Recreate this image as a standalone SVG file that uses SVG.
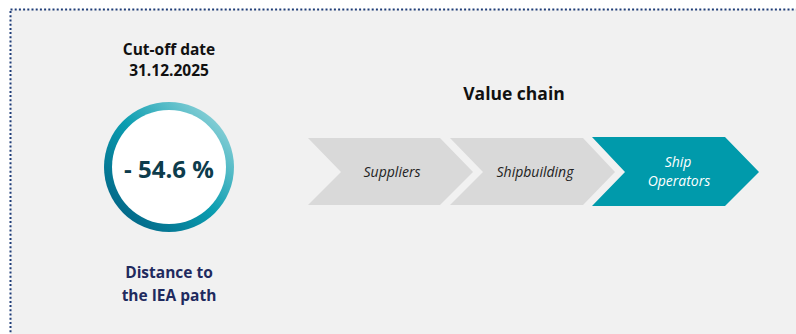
<svg xmlns="http://www.w3.org/2000/svg" width="796" height="334" viewBox="0 0 796 334">
<defs>
<linearGradient id="ring" x1="1" y1="0" x2="0" y2="1">
<stop offset="0" stop-color="#b2e0e3"/>
<stop offset="0.5" stop-color="#0a9db0"/>
<stop offset="1" stop-color="#00557a"/>
</linearGradient>
<style>
.hd{font-family:"Open Sans","Liberation Sans",sans-serif;font-weight:bold;text-anchor:middle}
.ch{font-family:"Open Sans","Liberation Sans",sans-serif;font-style:italic;font-size:14px;text-anchor:middle}
.gray{fill:#d9d9d9}
</style>
</defs>
<rect width="796" height="334" fill="#ffffff"/>
<rect x="10.5" y="9.5" width="800" height="340" fill="#f1f1f1" stroke="#1f3d78" stroke-width="2" stroke-dasharray="2 2.2"/>
<g id="cutoff">
<text class="hd" x="169" y="55" font-size="15.5" fill="#111">Cut-off date</text>
<text class="hd" x="169" y="76" font-size="15.5" fill="#111">31.12.2025</text>
</g>
<g id="gauge">
<circle cx="169" cy="167" r="65" fill="url(#ring)"/>
<circle cx="169" cy="167" r="57" fill="#ffffff"/>
<text class="hd" x="169" y="178" font-size="24" fill="#0d3c4c">- 54.6 %</text>
</g>
<g id="distance">
<text class="hd" x="169" y="278" font-size="15.5" fill="#1f2a5e">Distance to</text>
<text class="hd" x="169" y="301" font-size="15.5" fill="#1f2a5e">the IEA path</text>
</g>
<g id="title">
<text class="hd" x="514" y="100" font-size="17.5" fill="#111">Value chain</text>
</g>
<g id="suppliers">
<polygon class="gray" points="308,138 440,138 473,172 440,205 308,205 341,172"/>
<text class="ch" x="392" y="177" fill="#222">Suppliers</text>
</g>
<g id="shipbuilding">
<polygon class="gray" points="450,138 583,138 615,172 583,205 450,205 483,172"/>
<text class="ch" x="535" y="177" fill="#222">Shipbuilding</text>
</g>
<g id="operators">
<polygon points="592,137 725,137 759,172 725,206 592,206 625,172" fill="#009aab"/>
<text class="ch" x="678" y="167" fill="#ffffff">Ship</text>
<text class="ch" x="679" y="186" fill="#ffffff">Operators</text>
</g>
<g id="connectors"/>
</svg>
